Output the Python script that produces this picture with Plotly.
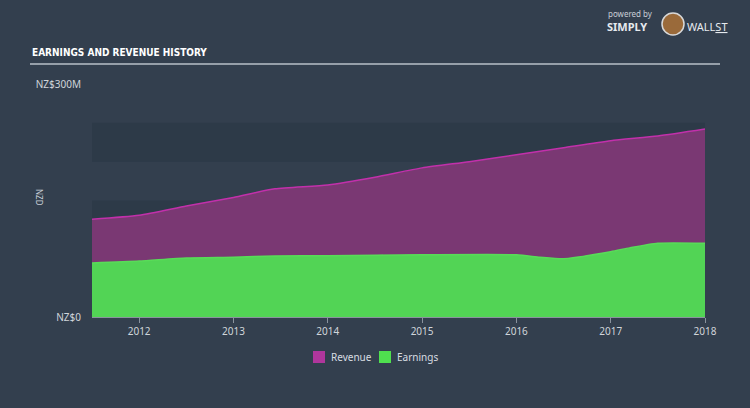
import plotly.graph_objects as go

# Data (NZ$ millions)
years = [2011.5, 2012.0, 2012.5, 2013.0, 2013.44, 2014.0, 2014.5, 2015.0, 2015.5, 2016.0, 2016.5, 2017.0, 2017.5, 2018.0]
revenue = [126, 131, 143, 154, 165, 170, 180, 192, 200, 209, 218, 227, 233, 242]
earnings_x = [2011.5, 2012.0, 2012.5, 2013.0, 2013.44, 2014.0, 2015.0, 2016.0, 2016.25, 2016.5, 2017.0, 2017.2, 2017.5, 2018.0]
earnings = [69.5, 72, 76, 77, 78.5, 79, 80, 80, 77, 75, 84, 89, 95, 95]

tick_years = [2012, 2013, 2014, 2015, 2016, 2017, 2018]
tick_labels = [str(y) for y in tick_years]
y_ticks = [0, 300]
y_tick_labels = ["NZ$0", "NZ$300M"]
series_names = ["Revenue", "Earnings"]

bg = "#333f4e"
band = "#2d3a48"
rev_fill = "#7a3873"
rev_swatch = "#b0369c"
earn_fill = "#52d455"
earn_swatch = "#4fe04f"


def px(xp):
    return (xp - 92) / 613


def py(yp):
    return (317 - yp) / 233


fig = go.Figure()
fig.add_trace(go.Scatter(
    x=years, y=revenue, name=series_names[0], mode="lines", showlegend=False,
    line=dict(color="#c230ab", width=1.5, shape="spline", smoothing=0.6),
    fill="tozeroy", fillcolor=rev_fill,
))
fig.add_trace(go.Scatter(
    x=earnings_x, y=earnings, name=series_names[1], mode="lines", showlegend=False,
    line=dict(color="#58dc58", width=1.5, shape="spline", smoothing=0.6),
    fill="tozeroy", fillcolor=earn_fill,
))

shapes = []
for lo in [0, 100, 200]:
    shapes.append(dict(type="rect", xref="x", yref="y", x0=2011.5, x1=2018.0,
                       y0=lo, y1=lo + 50, fillcolor=band, line=dict(width=0), layer="below"))
# title underline
shapes.append(dict(type="line", xref="paper", yref="paper",
                   x0=px(30), x1=px(720), y0=py(64), y1=py(64),
                   line=dict(color="#b8c0c8", width=1.5)))
# logo badge
shapes.append(dict(type="circle", xref="paper", yref="paper",
                   x0=px(662), x1=px(684), y0=py(35), y1=py(13),
                   fillcolor="#9a6a3a", line=dict(color="#d8d8d8", width=1.5)))
# legend swatches
for x0, col in [(313, rev_swatch), (379, earn_swatch)]:
    shapes.append(dict(type="rect", xref="paper", yref="paper",
                       x0=px(x0), x1=px(x0 + 12), y0=py(363), y1=py(351),
                       fillcolor=col, line=dict(width=0)))

annotations = [
    dict(text="<b>EARNINGS AND REVENUE HISTORY</b>", xref="paper", yref="paper",
         x=px(30), y=py(53), xanchor="left", yanchor="middle",
         showarrow=False, font=dict(family="DejaVu Sans Condensed, Liberation Sans Narrow", size=10, color="#ffffff")),
    dict(text="powered by", xref="paper", yref="paper",
         x=px(606), y=py(13), xanchor="left", yanchor="middle",
         showarrow=False, font=dict(family="Noto Sans", size=8, color="#c8ced6")),
    dict(text="<b>SIMPLY</b>", xref="paper", yref="paper",
         x=px(605), y=py(27), xanchor="left", yanchor="middle",
         showarrow=False, font=dict(family="Noto Sans", size=11, color="#e6eaee")),
    dict(text="WALL<u>ST</u>", xref="paper", yref="paper",
         x=px(685), y=py(27), xanchor="left", yanchor="middle",
         showarrow=False, font=dict(family="Noto Sans", size=11, color="#e6eaee")),
    dict(text="NZD", xref="paper", yref="paper",
         x=px(40), y=py(198), xanchor="center", yanchor="middle",
         textangle=90, showarrow=False, font=dict(family="Noto Sans", size=8, color="#c8ced6")),
    dict(text=series_names[0], xref="paper", yref="paper",
         x=px(329), y=py(357), xanchor="left", yanchor="middle",
         showarrow=False, font=dict(family="Noto Sans", size=10, color="#d8dde2")),
    dict(text=series_names[1], xref="paper", yref="paper",
         x=px(395), y=py(357), xanchor="left", yanchor="middle",
         showarrow=False, font=dict(family="Noto Sans", size=10, color="#d8dde2")),
]

fig.update_layout(
    width=750, height=408,
    margin=dict(l=92, r=45, t=84, b=91),
    paper_bgcolor=bg, plot_bgcolor=bg,
    showlegend=False,
    xaxis=dict(range=[2011.5, 2018.0], tickvals=tick_years, ticktext=tick_labels,
               showgrid=False, zeroline=False, showline=True, linecolor="#8a939e",
               ticks="outside", ticklen=5, tickcolor="#8a939e",
               tickfont=dict(family="Noto Sans", size=10, color="#d0d5da")),
    yaxis=dict(range=[0, 300], tickvals=y_ticks, ticktext=y_tick_labels,
               showgrid=False, zeroline=False, showline=False, ticks="",
               ticklabelstandoff=10,
               tickfont=dict(family="Noto Sans", size=10, color="#d0d5da")),
    shapes=shapes,
    annotations=annotations,
)

fig.write_html("out.html")
